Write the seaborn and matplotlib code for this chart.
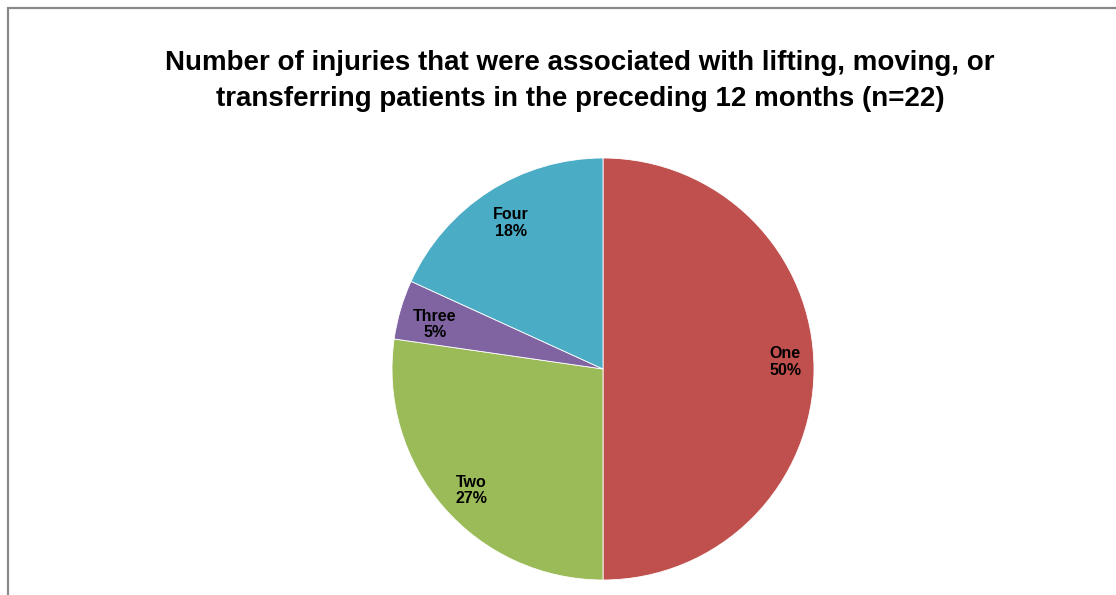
import matplotlib
matplotlib.use("Agg")
import matplotlib.pyplot as plt
import matplotlib.transforms as mtransforms
import seaborn as sns
from matplotlib.patches import Rectangle

# Injury counts (n=22)
categories = ["One", "Two", "Three", "Four"]
counts = [11, 6, 1, 4]
colors = ["#C0504D", "#9BBB59", "#8064A2", "#4BACC6"]
title = ("Number of injuries that were associated with lifting, moving, or\n"
         "transferring patients in the preceding 12 months (n=22)")

sns.set_theme(style="white")
plt.rcParams['font.family'] = ['Liberation Sans', 'DejaVu Sans']

W, H = 1116, 595
fig = plt.figure(figsize=(W / 100, H / 100), dpi=100)
fig.patch.set_facecolor("white")

# pie axes: centre (603, 369) px, radius 211 px
cx, cy, r = 603, 369, 211
ax = fig.add_axes([(cx - r) / W, (H - cy - r) / H, 2 * r / W, 2 * r / H])
wedges, texts, autotexts = ax.pie(
    counts, colors=colors, startangle=90, counterclock=False,
    autopct=lambda p: f"{p:.0f}%", pctdistance=0.85,
    wedgeprops=dict(edgecolor="white", linewidth=0.6),
    textprops=dict(fontsize=11.5, fontweight="bold", color="black"),
)
# small nudges (in pixels) so labels sit where Excel put them
nudges = [(3, 7), (4, -4), (4, -6), (5, -5)]
for t, lab, (dx, dy) in zip(autotexts, categories, nudges):
    t.set_text(f"{lab}\n{t.get_text()}")
    t.set_linespacing(1.15)
    t.set_transform(mtransforms.offset_copy(t.get_transform(), fig=fig,
                                            x=dx, y=dy, units="dots"))
ax.set_xlim(-1, 1)
ax.set_ylim(-1, 1)
ax.set_aspect("equal")
ax.axis("off")

fig.text(580 / W, 1 - 80.5 / H, title, ha="center", va="center", color="black",
         fontsize=20, fontweight="bold", linespacing=1.5)

# chart area border (cropped on right and bottom)
fig.add_artist(Rectangle((7.5 / W, -0.1), 1.2, (H - 8.5) / H + 0.1,
                         transform=fig.transFigure, fill=False,
                         edgecolor="#898989", linewidth=1.6))

fig.savefig("out.png", dpi=100)
